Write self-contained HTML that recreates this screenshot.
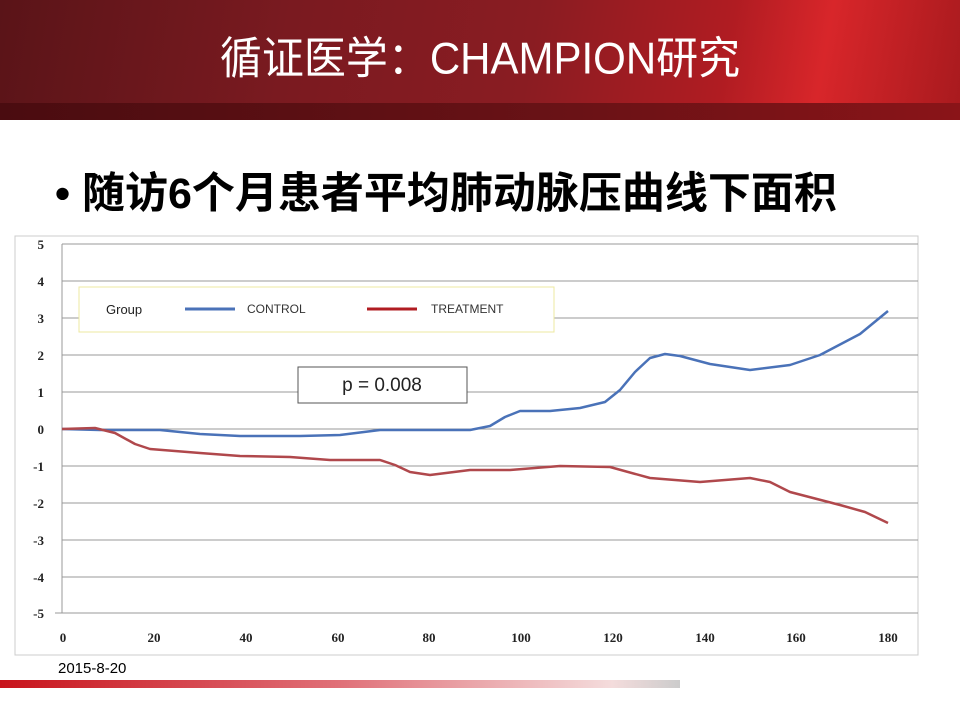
<!DOCTYPE html>
<html><head><meta charset="utf-8"><style>
body{margin:0;width:960px;height:720px;background:#fff;position:relative;overflow:hidden;font-family:"Liberation Sans","Noto Sans CJK SC",sans-serif}
#hdr{position:absolute;left:0;top:0;width:960px;height:120px;background:linear-gradient(100deg,#5a1418 0%,#7a1a20 30%,#8a1c22 55%,#b01c22 75%,#d8262a 85%,#a81a1e 100%)}
#hdr2{position:absolute;left:0;top:103px;width:960px;height:17px;background:linear-gradient(90deg,#4a0c10,#6a1216 60%,#8a1418)}
#title{position:absolute;top:34px;left:0;width:960px;text-align:center;color:#fff;font-size:42px;line-height:50px;transform:scaleY(1.05)}
#bul{position:absolute;top:168px;left:55px;font-size:43px;font-weight:bold;color:#000;line-height:52px}
#date{position:absolute;left:58px;top:660px;font-size:15px;color:#000}
#bar{position:absolute;left:0;top:680px;width:680px;height:8px;background:linear-gradient(90deg,#c8141c,#e07078 50%,#f4dcdc 90%,#ccc)}
</style></head><body>
<div id="hdr"></div><div id="hdr2"></div>
<div id="title">循证医学：CHAMPION研究</div>
<div id="bul">•&nbsp;随访6个月患者平均肺动脉压曲线下面积</div>
<svg width="960" height="720" style="position:absolute;left:0;top:0">
<rect x="15" y="236" width="903" height="419" fill="#fff" stroke="#ccc"/>
<g stroke="#999" stroke-width="1">
<line x1="62" y1="244" x2="918" y2="244"/><line x1="62" y1="281" x2="918" y2="281"/><line x1="62" y1="318" x2="918" y2="318"/><line x1="62" y1="355" x2="918" y2="355"/><line x1="62" y1="392" x2="918" y2="392"/><line x1="62" y1="429" x2="918" y2="429"/><line x1="62" y1="466" x2="918" y2="466"/><line x1="62" y1="503" x2="918" y2="503"/><line x1="62" y1="540" x2="918" y2="540"/><line x1="62" y1="577" x2="918" y2="577"/><line x1="55" y1="613" x2="918" y2="613"/>
<line x1="62" y1="244" x2="62" y2="613"/>
</g>
<g font-family="Liberation Serif,serif" font-weight="bold" font-size="13" fill="#222" text-anchor="end">
<text x="44" y="249">5</text><text x="44" y="286">4</text><text x="44" y="323">3</text><text x="44" y="360">2</text><text x="44" y="397">1</text><text x="44" y="434">0</text><text x="44" y="471">-1</text><text x="44" y="508">-2</text><text x="44" y="545">-3</text><text x="44" y="582">-4</text><text x="44" y="618">-5</text>
</g>
<g font-family="Liberation Serif,serif" font-weight="bold" font-size="13" fill="#222" text-anchor="middle">
<text x="63" y="642">0</text><text x="154" y="642">20</text><text x="246" y="642">40</text><text x="338" y="642">60</text><text x="429" y="642">80</text><text x="521" y="642">100</text><text x="613" y="642">120</text><text x="705" y="642">140</text><text x="796" y="642">160</text><text x="888" y="642">180</text>
</g>
<rect x="79" y="287" width="475" height="45" fill="#fff" stroke="#eee8a0"/>
<text x="106" y="314" font-size="13" fill="#222">Group</text>
<line x1="185" y1="309" x2="235" y2="309" stroke="#4a72b8" stroke-width="3"/>
<text x="247" y="313" font-size="12" fill="#333">CONTROL</text>
<line x1="367" y1="309" x2="417" y2="309" stroke="#b01c22" stroke-width="3"/>
<text x="431" y="313" font-size="12" fill="#333">TREATMENT</text>
<rect x="298" y="367" width="169" height="36" fill="#fff" stroke="#555"/>
<text x="382" y="391" font-size="19" fill="#222" text-anchor="middle">p = 0.008</text>
<polyline fill="none" stroke="#4a72b8" stroke-width="2.5" stroke-linejoin="round" points="62,429 100,430 160,430 200,434 240,436 300,436 340,435 380,430 430,430 470,430 490,426 505,417 520,411 550,411 580,408 605,402 620,390 635,372 650,358 665,354 680,356 710,364 750,370 790,365 820,355 860,334 888,311"/>
<polyline fill="none" stroke="#b0484c" stroke-width="2.5" stroke-linejoin="round" points="62,429 95,428 115,433 135,444 150,449 200,453 240,456 290,457 330,460 380,460 395,465 410,472 430,475 470,470 510,470 560,466 610,467 650,478 700,482 750,478 770,482 790,492 840,505 865,512 888,523"/>
</svg>
<div id="date">2015-8-20</div>
<div id="bar"></div>
</body></html>
